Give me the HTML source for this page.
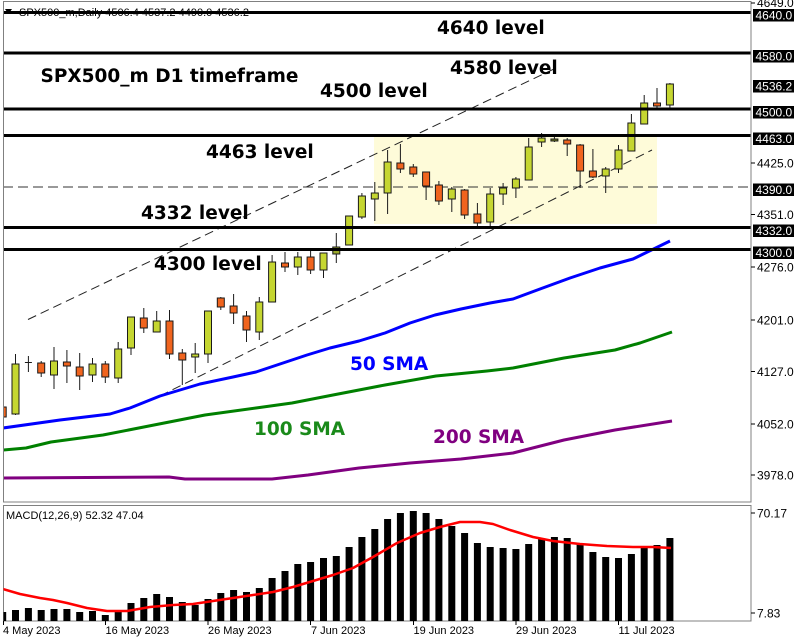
<!DOCTYPE html>
<html><head><meta charset="utf-8"><style>
html,body{margin:0;padding:0;background:#fff;}
svg{display:block;}
.ax{font-family:"Liberation Sans",sans-serif;font-size:11px;fill:#000;}
.ap{font-family:"Liberation Sans",sans-serif;font-size:12px;fill:#000;}
.axw{font-family:"Liberation Sans",sans-serif;font-size:12px;fill:#fff;}
.lv{font-family:"DejaVu Sans",sans-serif;font-weight:bold;font-size:18.5px;fill:#000;}
.u{fill:#c5d631;stroke:#1a1a1a;stroke-width:1;}
.d{fill:#f0641e;stroke:#1a1a1a;stroke-width:1;}
</style></head><body>
<svg width="802" height="642" viewBox="0 0 802 642" xmlns="http://www.w3.org/2000/svg">
<defs>
<clipPath id="cm"><rect x="3.5" y="1.5" width="747.5" height="500.5"/></clipPath>
<clipPath id="cd"><rect x="3.5" y="505.5" width="747.5" height="115.5"/></clipPath>
</defs>
<rect width="802" height="642" fill="#fff"/>

<g clip-path="url(#cm)">
<rect x="374" y="137" width="283" height="87" fill="#fefbd9"/>
<polygon points="5,9 12,9 8.5,14" fill="#000"/>
<text class="ax" x="19" y="16">SPX500_m,Daily  4506.4 4537.2 4490.0 4536.2</text>

<line x1="28" y1="319.5" x2="556" y2="68" stroke="#222" stroke-width="1" stroke-dasharray="9 5"/>
<line x1="160" y1="396" x2="652" y2="150" stroke="#222" stroke-width="1" stroke-dasharray="9 5"/>
<line x1="3" y1="187" x2="751" y2="187" stroke="#333" stroke-width="1" stroke-dasharray="10 5"/>

<polyline fill="none" stroke="#800080" stroke-width="3" stroke-linejoin="round" points="3,478 169,477 185,479 272,479 308,475 359,468 410,463 461,459 513,453 564,440 615,430 672,421"/>
<polyline fill="none" stroke="#008000" stroke-width="3" stroke-linejoin="round" points="3,450 26,448 51,442 103,435 154,425 205,415 256,408 292,403 333,395 385,385 436,376 487,371 513,368 564,358 615,350 640,343 672,332"/>
<polyline fill="none" stroke="#0000ff" stroke-width="3" stroke-linejoin="round" points="3,428 60,420 110,414 130,408 160,396 200,384 233,377 256,372 280,364 307,355 330,348 359,341 385,333 410,323 435,315 461,309 490,303 513,299 540,289 570,278 600,268 633,259 670,241"/>

<g stroke="#1a1a1a" stroke-width="1">
<line x1="2.7" y1="387" x2="2.7" y2="427"/>
<line x1="15.5" y1="354" x2="15.5" y2="415"/>
<line x1="28.4" y1="356" x2="28.4" y2="372"/>
<line x1="41.2" y1="361" x2="41.2" y2="377"/>
<line x1="54" y1="347" x2="54" y2="389"/>
<line x1="66.9" y1="350" x2="66.9" y2="383"/>
<line x1="79.7" y1="353" x2="79.7" y2="390"/>
<line x1="92.5" y1="358" x2="92.5" y2="382"/>
<line x1="105.3" y1="361" x2="105.3" y2="383"/>
<line x1="118.2" y1="342" x2="118.2" y2="383"/>
<line x1="131" y1="317" x2="131" y2="355"/>
<line x1="143.8" y1="308" x2="143.8" y2="333"/>
<line x1="156.7" y1="311" x2="156.7" y2="332"/>
<line x1="169.5" y1="310" x2="169.5" y2="359"/>
<line x1="182.3" y1="349" x2="182.3" y2="385"/>
<line x1="195.2" y1="343" x2="195.2" y2="373"/>
<line x1="208" y1="311" x2="208" y2="363"/>
<line x1="220.8" y1="297" x2="220.8" y2="310"/>
<line x1="233.6" y1="294" x2="233.6" y2="324"/>
<line x1="246.5" y1="311" x2="246.5" y2="342"/>
<line x1="259.3" y1="297" x2="259.3" y2="340"/>
<line x1="272.1" y1="255" x2="272.1" y2="302"/>
<line x1="285" y1="252" x2="285" y2="272"/>
<line x1="297.8" y1="252" x2="297.8" y2="275"/>
<line x1="310.6" y1="251" x2="310.6" y2="274"/>
<line x1="323.5" y1="253" x2="323.5" y2="278"/>
<line x1="336.3" y1="233" x2="336.3" y2="263"/>
<line x1="349.1" y1="216" x2="349.1" y2="245"/>
<line x1="361.9" y1="193" x2="361.9" y2="219"/>
<line x1="374.8" y1="182" x2="374.8" y2="221"/>
<line x1="387.6" y1="150" x2="387.6" y2="214"/>
<line x1="400.4" y1="144" x2="400.4" y2="173"/>
<line x1="413.3" y1="164" x2="413.3" y2="177"/>
<line x1="426.1" y1="172" x2="426.1" y2="200"/>
<line x1="438.9" y1="181" x2="438.9" y2="205"/>
<line x1="451.8" y1="187" x2="451.8" y2="212"/>
<line x1="464.6" y1="189" x2="464.6" y2="219"/>
<line x1="477.4" y1="203" x2="477.4" y2="226"/>
<line x1="490.2" y1="188" x2="490.2" y2="229"/>
<line x1="503.1" y1="183" x2="503.1" y2="205"/>
<line x1="515.9" y1="177" x2="515.9" y2="198"/>
<line x1="528.7" y1="138" x2="528.7" y2="180"/>
<line x1="541.6" y1="133" x2="541.6" y2="147"/>
<line x1="554.4" y1="137" x2="554.4" y2="142"/>
<line x1="567.2" y1="138" x2="567.2" y2="156"/>
<line x1="580.1" y1="144" x2="580.1" y2="188"/>
<line x1="592.9" y1="149" x2="592.9" y2="178"/>
<line x1="605.7" y1="167" x2="605.7" y2="193"/>
<line x1="618.5" y1="145" x2="618.5" y2="173"/>
<line x1="631.4" y1="114" x2="631.4" y2="151"/>
<line x1="644.2" y1="95" x2="644.2" y2="124"/>
<line x1="657" y1="88" x2="657" y2="108"/>
<line x1="669.9" y1="83" x2="669.9" y2="110"/>
<line x1="24.9" y1="362.5" x2="31.9" y2="362.5"/>
</g>
<rect class="d" x="-0.8" y="407" width="7" height="10"/>
<rect class="u" x="12" y="364" width="7" height="50"/>
<rect class="d" x="37.7" y="363" width="7" height="10"/>
<rect class="u" x="50.5" y="361" width="7" height="14"/>
<rect class="d" x="63.4" y="362" width="7" height="4"/>
<rect class="d" x="76.2" y="367" width="7" height="9"/>
<rect class="u" x="89" y="364" width="7" height="11"/>
<rect class="d" x="101.8" y="364" width="7" height="13"/>
<rect class="u" x="114.7" y="349" width="7" height="29"/>
<rect class="u" x="127.5" y="317" width="7" height="31"/>
<rect class="d" x="140.3" y="318" width="7" height="10"/>
<rect class="u" x="153.2" y="321" width="7" height="11"/>
<rect class="d" x="166" y="321" width="7" height="33"/>
<rect class="d" x="178.8" y="353" width="7" height="7"/>
<rect class="u" x="191.7" y="354" width="7" height="3"/>
<rect class="u" x="204.5" y="311" width="7" height="43"/>
<rect class="d" x="217.3" y="298" width="7" height="9"/>
<rect class="d" x="230.1" y="306" width="7" height="7"/>
<rect class="d" x="243" y="316" width="7" height="14"/>
<rect class="u" x="255.8" y="302" width="7" height="30"/>
<rect class="u" x="268.6" y="262" width="7" height="40"/>
<rect class="d" x="281.5" y="263" width="7" height="4"/>
<rect class="u" x="294.3" y="257" width="7" height="10"/>
<rect class="d" x="307.1" y="257" width="7" height="13"/>
<rect class="u" x="320" y="253" width="7" height="17"/>
<rect class="u" x="332.8" y="247" width="7" height="7" style="fill:#9aa82a"/>
<rect class="u" x="345.6" y="216" width="7" height="29"/>
<rect class="u" x="358.4" y="196" width="7" height="21"/>
<rect class="u" x="371.3" y="193" width="7" height="6"/>
<rect class="u" x="384.1" y="162" width="7" height="31"/>
<rect class="d" x="396.9" y="163" width="7" height="6"/>
<rect class="d" x="409.8" y="167" width="7" height="7"/>
<rect class="d" x="422.6" y="172" width="7" height="14"/>
<rect class="d" x="435.4" y="185" width="7" height="16"/>
<rect class="u" x="448.3" y="189" width="7" height="10"/>
<rect class="d" x="461.1" y="190" width="7" height="25"/>
<rect class="d" x="473.9" y="214" width="7" height="9"/>
<rect class="u" x="486.7" y="194" width="7" height="28"/>
<rect class="u" x="499.6" y="188" width="7" height="6"/>
<rect class="u" x="512.4" y="179" width="7" height="9"/>
<rect class="u" x="525.2" y="147" width="7" height="33"/>
<rect class="u" x="538.1" y="138" width="7" height="4"/>
<rect class="u" x="550.9" y="139" width="7" height="2" style="fill:#6f7a1c"/>
<rect class="d" x="563.7" y="140" width="7" height="4"/>
<rect class="d" x="576.6" y="145" width="7" height="26"/>
<rect class="d" x="589.4" y="171" width="7" height="6"/>
<rect class="u" x="602.2" y="169" width="7" height="7"/>
<rect class="u" x="615" y="150" width="7" height="19"/>
<rect class="u" x="627.9" y="123" width="7" height="28"/>
<rect class="u" x="640.7" y="103" width="7" height="21"/>
<rect class="d" x="653.5" y="103" width="7" height="3"/>
<rect class="u" x="666.4" y="84" width="7" height="21"/>

<g stroke="#000" stroke-width="3">
<line x1="3" y1="12.5" x2="751" y2="12.5"/>
<line x1="3" y1="53" x2="751" y2="53"/>
<line x1="3" y1="109" x2="751" y2="109"/>
<line x1="3" y1="135.5" x2="751" y2="135.5"/>
<line x1="3" y1="227.5" x2="751" y2="227.5"/>
<line x1="3" y1="249.5" x2="751" y2="249.5"/>
</g>

<text class="lv" x="437" y="34">4640 level</text>
<text class="lv" x="450" y="74">4580 level</text>
<text class="lv" x="40.5" y="82">SPX500_m D1 timeframe</text>
<text class="lv" x="320" y="97">4500 level</text>
<text class="lv" x="206" y="158">4463 level</text>
<text class="lv" x="141" y="219">4332 level</text>
<text class="lv" x="154" y="270">4300 level</text>
<text class="lv" x="350" y="370" style="fill:#0000ff">50 SMA</text>
<text class="lv" x="254" y="435" style="fill:#1a8a1a">100 SMA</text>
<text class="lv" x="433" y="443" style="fill:#800080">200 SMA</text>
</g>

<rect x="3.5" y="1.5" width="747.5" height="500.5" fill="none" stroke="#808080" stroke-width="1"/>
<rect x="3.5" y="505.5" width="747.5" height="115.5" fill="none" stroke="#808080" stroke-width="1"/>

<g stroke="#000" stroke-width="1">
<line x1="751" y1="3" x2="755" y2="3"/>
<line x1="751" y1="163" x2="755" y2="163"/>
<line x1="751" y1="214.5" x2="755" y2="214.5"/>
<line x1="751" y1="267" x2="755" y2="267"/>
<line x1="751" y1="320" x2="755" y2="320"/>
<line x1="751" y1="371.5" x2="755" y2="371.5"/>
<line x1="751" y1="424" x2="755" y2="424"/>
<line x1="751" y1="475" x2="755" y2="475"/>
<line x1="751" y1="513" x2="755" y2="513"/>
<line x1="751" y1="613" x2="755" y2="613"/>
</g>
<text class="ap" x="757" y="7">4649.0</text>
<text class="ap" x="757" y="167.5">4425.0</text>
<text class="ap" x="757" y="219">4351.0</text>
<text class="ap" x="757" y="271.5">4276.0</text>
<text class="ap" x="757" y="324.5">4201.0</text>
<text class="ap" x="757" y="376">4127.0</text>
<text class="ap" x="757" y="428.5">4052.0</text>
<text class="ap" x="757" y="479.5">3978.0</text>

<g fill="#000">
<rect x="753" y="9" width="41" height="12.5"/>
<rect x="753" y="50" width="41" height="12.5"/>
<rect x="753" y="80" width="41" height="12.5"/>
<rect x="753" y="106" width="41" height="12.5"/>
<rect x="753" y="132.5" width="41" height="12.5"/>
<rect x="753" y="183.5" width="41" height="12.5"/>
<rect x="753" y="224.5" width="41" height="12.5"/>
<rect x="753" y="246.5" width="41" height="12.5"/>
</g>
<text class="axw" x="755.5" y="19.5">4640.0</text>
<text class="axw" x="755.5" y="60.5">4580.0</text>
<text class="axw" x="755.5" y="90.5">4536.2</text>
<text class="axw" x="755.5" y="116.5">4500.0</text>
<text class="axw" x="755.5" y="143">4463.0</text>
<text class="axw" x="755.5" y="194">4390.0</text>
<text class="axw" x="755.5" y="235">4332.0</text>
<text class="axw" x="755.5" y="257">4300.0</text>

<g clip-path="url(#cd)" fill="#000">
<rect x="-0.8" y="612" width="7" height="9"/>
<rect x="12" y="610" width="7" height="11"/>
<rect x="24.9" y="608" width="7" height="13"/>
<rect x="37.7" y="610" width="7" height="11"/>
<rect x="50.5" y="609" width="7" height="12"/>
<rect x="63.4" y="609" width="7" height="12"/>
<rect x="76.2" y="612" width="7" height="9"/>
<rect x="89" y="611" width="7" height="10"/>
<rect x="101.8" y="615" width="7" height="6"/>
<rect x="114.7" y="612" width="7" height="9"/>
<rect x="127.5" y="603" width="7" height="18"/>
<rect x="140.3" y="598" width="7" height="23"/>
<rect x="153.2" y="594" width="7" height="27"/>
<rect x="166" y="597" width="7" height="24"/>
<rect x="178.8" y="602" width="7" height="19"/>
<rect x="191.7" y="605" width="7" height="16"/>
<rect x="204.5" y="599" width="7" height="22"/>
<rect x="217.3" y="593" width="7" height="28"/>
<rect x="230.1" y="590" width="7" height="31"/>
<rect x="243" y="592" width="7" height="29"/>
<rect x="255.8" y="588" width="7" height="33"/>
<rect x="268.6" y="578" width="7" height="43"/>
<rect x="281.5" y="571" width="7" height="50"/>
<rect x="294.3" y="564" width="7" height="57"/>
<rect x="307.1" y="562" width="7" height="59"/>
<rect x="320" y="558" width="7" height="63"/>
<rect x="332.8" y="556" width="7" height="65"/>
<rect x="345.6" y="547" width="7" height="74"/>
<rect x="358.4" y="537" width="7" height="84"/>
<rect x="371.3" y="529" width="7" height="92"/>
<rect x="384.1" y="519" width="7" height="102"/>
<rect x="396.9" y="513" width="7" height="108"/>
<rect x="409.8" y="511" width="7" height="110"/>
<rect x="422.6" y="513" width="7" height="108"/>
<rect x="435.4" y="519" width="7" height="102"/>
<rect x="448.3" y="526" width="7" height="95"/>
<rect x="461.1" y="533" width="7" height="88"/>
<rect x="473.9" y="543" width="7" height="78"/>
<rect x="486.7" y="547" width="7" height="74"/>
<rect x="499.6" y="548" width="7" height="73"/>
<rect x="512.4" y="549" width="7" height="72"/>
<rect x="525.2" y="544" width="7" height="77"/>
<rect x="538.1" y="539" width="7" height="82"/>
<rect x="550.9" y="537" width="7" height="84"/>
<rect x="563.7" y="538" width="7" height="83"/>
<rect x="576.6" y="544" width="7" height="77"/>
<rect x="589.4" y="552" width="7" height="69"/>
<rect x="602.2" y="557" width="7" height="64"/>
<rect x="615" y="558" width="7" height="63"/>
<rect x="627.9" y="554" width="7" height="67"/>
<rect x="640.7" y="548" width="7" height="73"/>
<rect x="653.5" y="545" width="7" height="76"/>
<rect x="666.4" y="538" width="7" height="83"/>
<polyline fill="none" stroke="#ff0000" stroke-width="2.5" stroke-linejoin="round" points="3,589 20,594 40,598 53,600 67,603 87,608 107,611 127,611 150,607 173,605 193,604 213,601 233,598 253,595 273,592 293,587 313,581 333,575 353,568 373,557 397,543 420,533 440,527 460,522 480,522 493,524 510,530 533,537 553,541 580,544 607,546 633,547 653,547 671,548"/>
</g>
<text class="ax" x="6" y="519">MACD(12,26,9) 52.32 47.04</text>
<text class="ap" x="757" y="517.5">70.17</text>
<text class="ap" x="757" y="617.5">7.83</text>

<g stroke="#000" stroke-width="1">
<line x1="3.5" y1="621" x2="3.5" y2="625"/>
<line x1="105.5" y1="621" x2="105.5" y2="625"/>
<line x1="208" y1="621" x2="208" y2="625"/>
<line x1="310.5" y1="621" x2="310.5" y2="625"/>
<line x1="413.5" y1="621" x2="413.5" y2="625"/>
<line x1="516" y1="621" x2="516" y2="625"/>
<line x1="618.5" y1="621" x2="618.5" y2="625"/>
</g>
<text class="ax" x="3" y="634">4 May 2023</text>
<text class="ax" x="105.5" y="634">16 May 2023</text>
<text class="ax" x="208" y="634">26 May 2023</text>
<text class="ax" x="311" y="634">7 Jun 2023</text>
<text class="ax" x="413.5" y="634">19 Jun 2023</text>
<text class="ax" x="516" y="634">29 Jun 2023</text>
<text class="ax" x="618.5" y="634">11 Jul 2023</text>
</svg>
</body></html>
